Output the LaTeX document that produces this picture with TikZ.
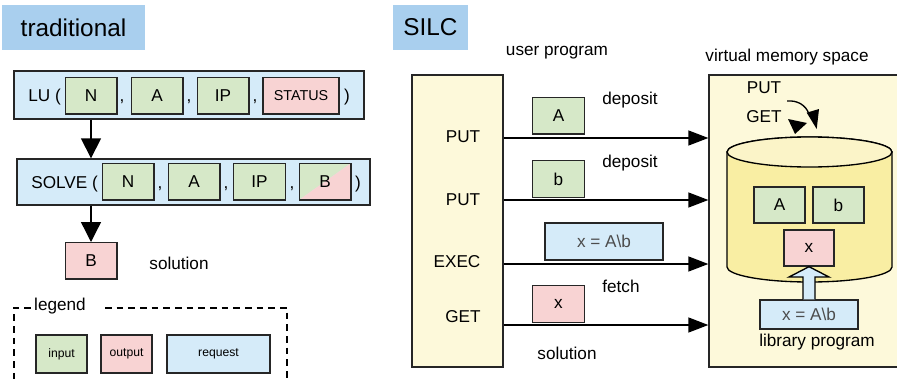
\documentclass[tikz,border=0pt]{standalone}
\usepackage{fontspec}
\setmainfont{Liberation Sans}
\usetikzlibrary{
    positioning,
    calc,
    arrows.meta}

\definecolor{titleblue}{HTML}{A9CFEE}
\definecolor{reqblue}{HTML}{D5EBF9}
\definecolor{ingreen}{HTML}{D6E8C8}
\definecolor{outpink}{HTML}{F8D3D3}
\definecolor{paleyellow}{HTML}{FDF9DA}
\definecolor{cylyellow}{HTML}{F9EEA3}
\definecolor{cyltop}{HTML}{FBF4C8}

\tikzset{
    txt/.style={inner sep=0pt, font=\fontsize{10.3}{12}\selectfont},
    box/.style={draw=black!85, line width=0.8pt, inner sep=0pt, font=\fontsize{10.3}{12}\selectfont},
    inbox/.style={box, fill=ingreen, minimum width=31pt, minimum height=22pt},
    outbox/.style={box, fill=outpink, minimum width=31pt, minimum height=22pt},
    reqbox/.style={box, fill=reqblue},
    titlebox/.style={fill=titleblue, inner sep=0pt, font=\fontsize{14.6}{17}\selectfont},
    arr/.style={line width=0.8pt, -{Triangle[length=12pt,width=9pt]}},
    bigarr/.style={line width=0.8pt, -{Triangle[length=12pt,width=12pt]}}
}

\begin{document}
\begin{tikzpicture}[x=0.6pt, y=-0.6pt]
\useasboundingbox (0,0) rectangle (897,380);
\clip (0,0) rectangle (897,380);

% traditional
\node[titlebox, minimum width=85.8pt, minimum height=27pt] (ttrad) at (73.5,27.5) {traditional};

\node[reqbox, minimum width=210pt, minimum height=28.8pt] (lu) at (189,95) {};
\node[txt, anchor=base west] (lutxt) at (28,101) {LU (};
\node[inbox] (luN) at (91,95.5) {N};
\node[inbox] (luA) at (157,95.5) {A};
\node[inbox] (luIP) at (223,95.5) {IP};
\node[outbox, minimum width=45.6pt, font=\fontsize{8.6}{10}\selectfont] (luST) at (301,95.5) {STATUS};
\foreach \x/\n in {122/1,189/2,255/3}
{
    \node[txt, anchor=base] (luc\n) at (\x,101) {,};
}
\node[txt, anchor=base] (lupar) at (347,101) {)};

\node[reqbox, minimum width=211.8pt, minimum height=27.6pt] (solve) at (193.5,182) {};
\node[txt, anchor=base west] (solvetxt) at (31,188) {SOLVE (};
\node[inbox] (soN) at (128,181.5) {N};
\node[inbox] (soA) at (194,181.5) {A};
\node[inbox] (soIP) at (259.5,181.5) {IP};
\node[box, minimum width=31pt, minimum height=22pt,
    path picture={
        \fill[ingreen] (path picture bounding box.south west) -- (path picture bounding box.north west) -- (path picture bounding box.north east) -- cycle;
        \fill[outpink] (path picture bounding box.south west) -- (path picture bounding box.north east) -- (path picture bounding box.south east) -- cycle;
    }] (soB) at (325,181.5) {B};
\foreach \x/\n in {160/1,226/2,292/3}
{
    \node[txt, anchor=base] (soc\n) at (\x,188) {,};
}
\node[txt, anchor=base] (sopar) at (358,188) {)};

\draw[bigarr] (lu.south -| luN) -- (solve.north -| luN);
\draw[bigarr] (solve.south -| luN) -- (luN |- 0,242);

\node[outbox] (bout) at (91,260.5) {B};
\node[txt] (soltrad) at (179,263) {solution};

% legend
\node[txt] (legtxt) at (60,306) {legend};
\draw[dashed, line width=0.8pt, dash pattern=on 4pt off 3pt] (legtxt.west) ++(-3,2) -- (14,308) -- (14,395);
\draw[dashed, line width=0.8pt, dash pattern=on 4pt off 3pt] (105,308) -- (287,308) -- (287,395);
\node[inbox, minimum width=30.6pt, minimum height=22.8pt, font=\fontsize{7.3}{9}\selectfont] (legin) at (61.5,354) {input};
\node[outbox, minimum width=30.6pt, minimum height=22.8pt, font=\fontsize{7.3}{9}\selectfont] (legout) at (126.5,354) {output};
\node[reqbox, minimum width=61.8pt, minimum height=22.8pt, font=\fontsize{7.3}{9}\selectfont] (legreq) at (218.5,354) {request};

% SILC
\node[titlebox, minimum width=45pt, minimum height=27pt] (tsilc) at (430.5,27.5) {SILC};
\node[txt] (usertxt) at (557,53) {user program};
\node[txt] (vmtxt) at (787,57) {virtual memory space};

\node[box, fill=paleyellow, minimum width=54.6pt, minimum height=175.2pt] (user) at (457.5,221) {};
\node[box, fill=paleyellow, minimum width=117.6pt, minimum height=175.2pt] (vm) at (807,221) {};

\node[txt] (put1) at (463,137) {PUT};
\node[txt] (put2) at (463,200) {PUT};
\node[txt] (exec) at (457,262) {EXEC};
\node[txt] (get) at (463,317) {GET};

\foreach \y in {138,200,264,325}
{
    \draw[arr] (user.east |- 0,\y) -- (vm.west |- 0,\y);
}

\node[inbox] (depA) at (558.5,115.5) {A};
\node[txt] (dep1) at (630,100) {deposit};
\node[inbox] (depb) at (558.5,179) {b};
\node[txt] (dep2) at (630,163) {deposit};
\node[reqbox, minimum width=70.8pt, minimum height=22.2pt, text=black!70] (req) at (604,241.5) {x = A\textbackslash b};
\node[txt] (fetch) at (621,286) {fetch};
\node[outbox] (getx) at (558.5,304) {x};
\node[txt] (solsilc) at (567,353) {solution};

% store
\node[txt] (putv) at (764,88) {PUT};
\node[txt] (getv) at (764,117) {GET};
\draw[line width=0.8pt] (787,101) to[out=5,in=110] (809,114);
\fill (806.7,112.7) -- (819,109) -- (816.7,129) -- cycle;
\fill (788,119) -- (807,123) -- (795,134) -- cycle;

\draw[line width=0.8pt, fill=cylyellow] (727,152) -- (727,267) arc (180:360:49.5pt and 9pt) -- (892,152) arc (0:180:49.5pt and 9pt) -- cycle;
\draw[line width=0.8pt, fill=cyltop] (809.5,152) ellipse [x radius=49.5pt, y radius=9pt];

\node[inbox, minimum width=30.6pt, minimum height=21.6pt] (memA) at (779.5,205) {A};
\node[inbox, minimum width=30.6pt, minimum height=21.6pt] (memb) at (838.5,205) {b};
\node[outbox, minimum width=30pt, minimum height=21.6pt] (memx) at (809,248) {x};

\node[reqbox, minimum width=58.8pt, minimum height=17.4pt, text=black!70] (lib) at (809,314.5) {x = A\textbackslash b};
\draw[line width=0.8pt, fill=reqblue] (lib.north -| 803,0) -- (803,277) -- (789,277) -- (memx.south) -- (829,277) -- (815,277) -- (lib.north -| 815,0);
\node[txt] (libtxt) at (817,342) {library program};

\end{tikzpicture}
\end{document}
